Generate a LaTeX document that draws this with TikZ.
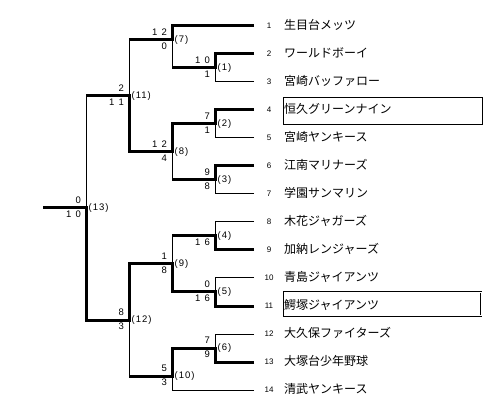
\documentclass[tikz,border=0pt]{standalone}
\usepackage{fontspec}
\setmainfont{Liberation Sans}
\newfontfamily\jpfont{Noto Sans CJK JP}
\newfontfamily\lblfont[LetterSpace=10]{Liberation Sans}
\newcommand\twodig[2]{#1\kern4pt#2}
\begin{document}
\begin{tikzpicture}[x=1pt,y=-1pt,
  thinl/.style={line width=1pt},
  win/.style={line width=3pt, line join=miter},
  team/.style={anchor=west, inner sep=0pt, font=\jpfont\fontsize{12}{12}\selectfont},
  tnum/.style={inner sep=0pt, font=\fontsize{8}{8}\selectfont},
  upsc/.style={anchor=south east, inner sep=0pt, font=\fontsize{9.5}{9.5}\selectfont},
  losc/.style={anchor=north east, inner sep=0pt, font=\fontsize{9.5}{9.5}\selectfont},
  mno/.style={anchor=west, inner sep=0pt, font=\lblfont\fontsize{9.5}{9.5}\selectfont},
]
\useasboundingbox (0,0) rectangle (500,419);

% team line ends
\foreach \i/\y in {1/26,2/54,3/82,4/110,5/138,6/166,7/194,8/222,9/250,10/278,11/306,12/334,13/362,14/390}
  \coordinate (e\i) at (254,\y);

% junctions
\coordinate (m1) at (215,68);
\coordinate (m2) at (215,124);
\coordinate (m3) at (215,180);
\coordinate (m4) at (215,236);
\coordinate (m5) at (215,292);
\coordinate (m6) at (215,348);
\coordinate (m7) at (172,40);
\coordinate (m8) at (172,152);
\coordinate (m9) at (172,264);
\coordinate (m10) at (172,376);
\coordinate (m11) at (129,96);
\coordinate (m12) at (129,320);
\coordinate (m13) at (86,208);
\coordinate (r) at (43,208);

% losing (thin) lines
\draw[thinl] (e3) -| (m1);
\draw[thinl] (m7) -- (m1 -| m7);
\draw[thinl] (m7 -| m11) -- (m11);
\draw[thinl] (e5) -| (m2);
\draw[thinl] (e7) -| (m3);
\draw[thinl] (m8) -- (m3 -| m8);
\draw[thinl] (m11 -| m13) -- (m13);
\draw[thinl] (e8) -| (m4);
\draw[thinl] (m4 -| m9) -- (m9);
\draw[thinl] (e10) -| (m5);
\draw[thinl] (e12) -| (m6);
\draw[thinl] (e14) -| (m10);
\draw[thinl] (m12) -- (m10 -| m12);

% winning (thick) paths
\draw[win] (e1) -| (m7) -- (m7 -| m11);
\draw[win] (e2) -| (m1) -- (m1 -| m7);
\draw[win] (e4) -| (m2) -- (m2 -| m8) -- (m8) -- (m8 -| m11) -- (m11) -- (m11 -| m13);
\draw[win] (e6) -| (m3) -- (m3 -| m8);
\draw[win] (e9) -| (m4) -- (m4 -| m9);
\draw[win] (e11) -| (m5) -- (m5 -| m9) -- (m9) -- (m9 -| m12) -- (m12) -- (m12 -| m13) -- (m13) -- (r);
\draw[win] (e13) -| (m6) -- (m6 -| m10) -- (m10) -- (m10 -| m12);

% scores
\node[upsc] (u1) at ([shift={(-5,-4.5)}]m1) {\twodig{1}{0}};
\node[losc] (l1) at ([shift={(-5,3)}]m1) {1};
\node[upsc] (u2) at ([shift={(-5,-4.5)}]m2) {7};
\node[losc] (l2) at ([shift={(-5,3)}]m2) {1};
\node[upsc] (u3) at ([shift={(-5,-4.5)}]m3) {9};
\node[losc] (l3) at ([shift={(-5,3)}]m3) {8};
\node[losc] (l4) at ([shift={(-5,3)}]m4) {\twodig{1}{6}};
\node[upsc] (u5) at ([shift={(-5,-4.5)}]m5) {0};
\node[losc] (l5) at ([shift={(-5,3)}]m5) {\twodig{1}{6}};
\node[upsc] (u6) at ([shift={(-5,-4.5)}]m6) {7};
\node[losc] (l6) at ([shift={(-5,3)}]m6) {9};
\node[upsc] (u7) at ([shift={(-5,-4.5)}]m7) {\twodig{1}{2}};
\node[losc] (l7) at ([shift={(-5,3)}]m7) {0};
\node[upsc] (u8) at ([shift={(-5,-4.5)}]m8) {\twodig{1}{2}};
\node[losc] (l8) at ([shift={(-5,3)}]m8) {4};
\node[upsc] (u9) at ([shift={(-5,-4.5)}]m9) {1};
\node[losc] (l9) at ([shift={(-5,3)}]m9) {8};
\node[upsc] (u10) at ([shift={(-5,-4.5)}]m10) {5};
\node[losc] (l10) at ([shift={(-5,3)}]m10) {3};
\node[upsc] (u11) at ([shift={(-5,-4.5)}]m11) {2};
\node[losc] (l11) at ([shift={(-5,3)}]m11) {\twodig{1}{1}};
\node[upsc] (u12) at ([shift={(-5,-4.5)}]m12) {8};
\node[losc] (l12) at ([shift={(-5,3)}]m12) {3};
\node[upsc] (u13) at ([shift={(-5,-4.5)}]m13) {0};
\node[losc] (l13) at ([shift={(-5,3)}]m13) {\twodig{1}{0}};

% match numbers
\foreach \k in {1,...,13}
  \node[mno] (n\k) at ([xshift=2.5]m\k) {(\k)};

% boxes
\node[draw, line width=1pt, minimum width=198.7, minimum height=26.3, inner sep=0pt, anchor=north west] (box4) at (282.8,97.5) {};
\node[draw, double, double distance=0.8pt, line width=0.8pt, minimum width=197, minimum height=23.4, inner sep=0pt, anchor=north west] (box11) at (283.5,291.9) {};

% team numbers and names
\foreach \i/\y/\nm in {1/26/生目台メッツ,2/54/ワールドボーイ,3/82/宮崎バッファロー,4/110/恒久グリーンナイン,5/138/宮崎ヤンキース,6/166/江南マリナーズ,7/194/学園サンマリン,8/222/木花ジャガーズ,9/250/加納レンジャーズ,10/278/青島ジャイアンツ,11/306/鰐塚ジャイアンツ,12/334/大久保ファイターズ,13/362/大塚台少年野球,14/390/清武ヤンキース}{
  \node[tnum] (k\i) at (269,\y) {\i};
  \node[team] (t\i) at (284,\y-1) {\nm};
}
\end{tikzpicture}
\end{document}
